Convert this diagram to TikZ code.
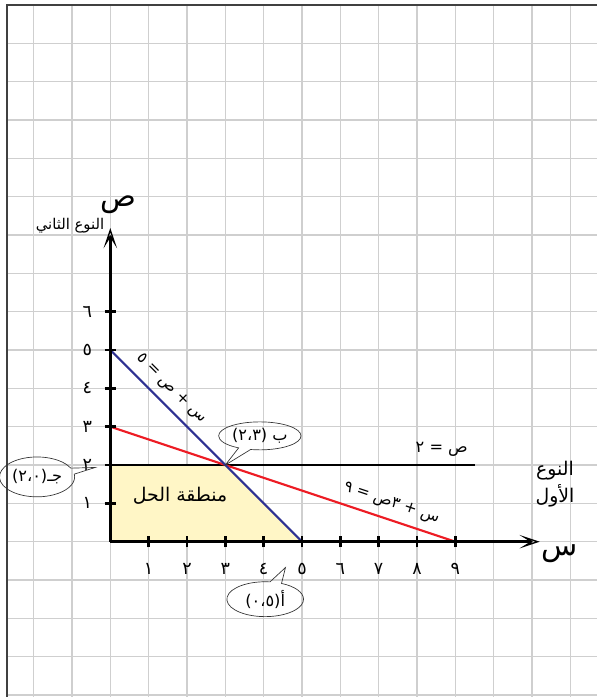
\documentclass[tikz,border=0pt]{standalone}
\usepackage{fontspec}
\newfontfamily\arabicfont[Script=Arabic]{DejaVu Sans}
\TeXXeTstate=1
\usetikzlibrary{arrows.meta, shapes.callouts}

\definecolor{gridgray}{HTML}{CFCFCF}
\definecolor{framegray}{HTML}{404040}
\definecolor{lineblue}{HTML}{2E3192}
\definecolor{linered}{HTML}{ED1C24}
\definecolor{regionyellow}{HTML}{FFF6C6}

\begin{document}
\begin{tikzpicture}[
    x=1cm, y=1cm,
    ar/.style={font=\arabicfont\fontsize{#1}{#1}\selectfont, inner sep=2pt},
    ar/.default=13,
    grid_line/.style={gridgray, line width=1pt},
    frame_line/.style={framegray, line width=1.4pt},
    axis/.style={line width=2.2pt, -{Stealth[length=15pt, width=10pt, inset=8pt, open, line width=1pt]}},
    tick_mark/.style={line width=2pt},
    blue_line/.style={lineblue, line width=1.6pt},
    red_line/.style={linered, line width=1.6pt},
    bound_line/.style={black, line width=2.2pt},
    line_label/.style={ar=11.5, text=black, sloped, above=4pt},
    point_callout/.style={ar=12, ellipse callout, draw=black!80, line width=0.5pt,
        inner sep=1pt, callout pointer arc=18}
]

    % --- PAPER ---
    \useasboundingbox (-2.877,-4.051) rectangle (12.694,14.129);
    \draw[grid_line] (-2.694,-4.051) grid (12.694,14);
    \draw[frame_line] (-2.694,-4.051) -- (-2.694,14) -- (12.694,14);

    % --- POINTS ---
    \coordinate (O) at (0,0);
    \coordinate (A) at (5,0);
    \coordinate (B) at (3,2);
    \coordinate (C) at (0,2);
    \coordinate (blue_top) at (0,5);
    \coordinate (red_top) at (0,3);
    \coordinate (red_end) at (9,0);
    \coordinate (bound_end) at (9.5,2);
    \coordinate (x_end) at (11.2,0);
    \coordinate (y_end) at (0,8.18);

    % --- SOLUTION REGION ---
    \fill[regionyellow] (O) -- (C) -- (B) -- (A) -- cycle;
    \node (region_label) [ar=14] at (1.82,1.19) {\beginR منطقة الحل\endR};

    % --- CONSTRAINT LINES ---
    \draw[bound_line] (C) -- (bound_end)
        node[ar=12, pos=0.91, above=3pt] (bound_label) {\beginR ص = ٢\endR};
    \draw[red_line] (red_top) -- (red_end)
        node[line_label, pos=0.8] (red_label) {\beginR س + ٣ص = ٩\endR};
    \draw[blue_line] (blue_top) -- (A)
        node[line_label, pos=0.26] (blue_label) {\beginR س + ص = ٥\endR};

    % --- AXES ---
    \draw[axis] (O) -- (x_end);
    \draw[axis] (O) -- (y_end);
    \foreach \i/\d in {1/١,2/٢,3/٣,4/٤,5/٥,6/٦,7/٧,8/٨,9/٩} {
        \draw[tick_mark] (\i,-0.15) -- (\i,0.15);
        \node (xnum_\i) [ar] at (\i,-0.72) {\d};
    }
    \foreach \i/\d in {1/١,2/٢,3/٣,4/٤,5/٥,6/٦} {
        \draw[tick_mark] (-0.15,\i) -- (0.15,\i);
        \node (ynum_\i) [ar] at (-0.6,\i) {\d};
    }
    \node (x_letter) [ar=22] at (11.72,-0.3) {س};
    \node (x_title) [ar=14, align=center] at (11.6,1.5) {\beginR النوع\endR\\[2pt]\beginR الأول\endR};
    \node (y_letter) [ar=22] at (0.2,8.8) {ص};
    \node (y_title) [ar=11] at (-1.05,8.25) {\beginR النوع الثاني\endR};

    % --- CALLOUTS ---
    \node (B_label) [point_callout, minimum width=1.83cm, minimum height=0.73cm,
        callout absolute pointer={(B)}] at (3.9,2.76) {\beginR ب (٢،٣)\endR};
    \node (C_label) [point_callout, minimum width=1.96cm, minimum height=1.04cm,
        callout absolute pointer={(C)}, callout pointer shorten=0.4cm] at (-1.91,1.69) {\beginR جـ(٢،٠)\endR};
    \node (A_label) [point_callout, minimum width=2.0cm, minimum height=0.91cm,
        callout absolute pointer={(A)}, callout pointer shorten=0.8cm] at (4.04,-1.5) {\beginR أ(٠،٥)\endR};

\end{tikzpicture}
\end{document}
